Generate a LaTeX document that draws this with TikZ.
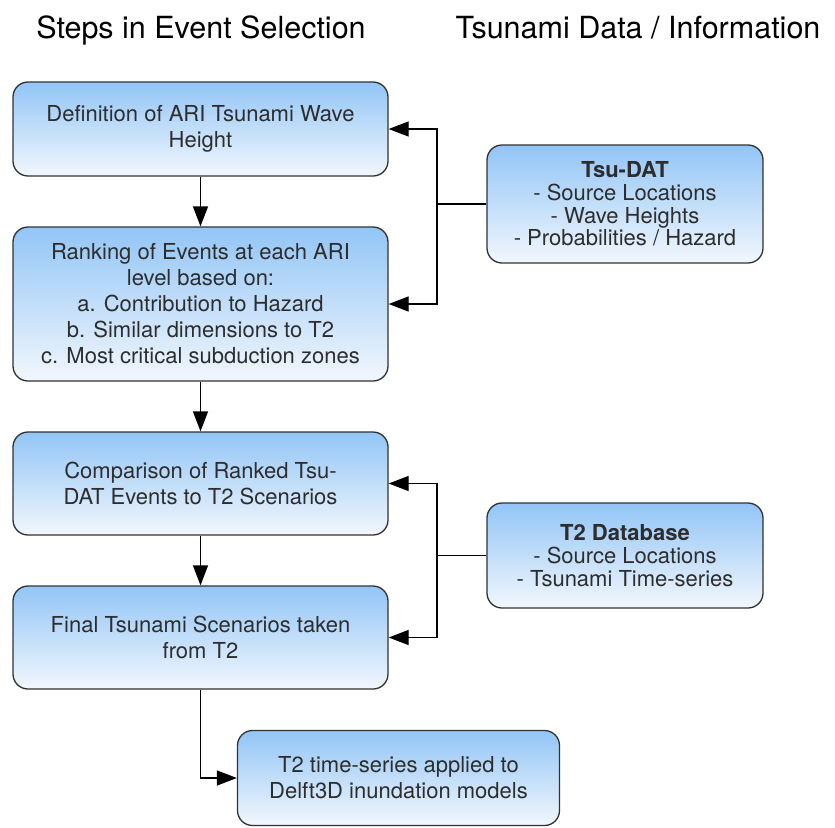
\documentclass[tikz,border=0pt]{standalone}
\usepackage{fontspec}
\setmainfont{TeX Gyre Heros}
\usetikzlibrary{arrows.meta}
\definecolor{boxtop}{RGB}{146,197,246}
\definecolor{boxbot}{RGB}{242,247,253}
\definecolor{txt}{RGB}{45,45,45}
\definecolor{edge}{RGB}{50,50,50}
\begin{document}
\begin{tikzpicture}[x=1pt,y=-1pt,
  stepbox/.style={draw=edge, line width=1.3pt, rounded corners=15pt,
    top color=boxtop, bottom color=boxbot, text=txt, align=center,
    font=\fontsize{22}{26}\selectfont, inner sep=0pt},
  databox/.style={stepbox, font=\fontsize{22}{22.7}\selectfont},
  conn/.style={line width=1.3pt, draw=black},
  arr/.style={conn, -{Triangle[length=20pt,width=15pt]}},
  title/.style={font=\fontsize{30.5}{34}\selectfont, anchor=base, text=black}]
\useasboundingbox[fill=white] (0,0) rectangle (835,827);

\node[title] (t1) at (201,38) {Steps in Event Selection};
\node[title] (t2) at (638,38) {Tsunami Data / Information};

\node[stepbox, minimum width=375pt, minimum height=94pt] (b1) at (200.5,129)
  {Definition of ARI Tsunami Wave\\Height};
\node[stepbox, minimum width=375pt, minimum height=154pt] (b2) at (200.5,304)
  {Ranking of Events at each ARI\\level based on:\\a. Contribution to Hazard\\b. Similar dimensions to T2\\c. Most critical subduction zones};
\node[stepbox, minimum width=375pt, minimum height=103pt] (b3) at (200.5,483.5)
  {Comparison of Ranked Tsu-\\DAT Events to T2 Scenarios};
\node[stepbox, minimum width=375pt, minimum height=103pt] (b4) at (200.5,637.5)
  {Final Tsunami Scenarios taken\\from T2};
\node[stepbox, minimum width=322pt, minimum height=95pt] (b5) at (398.5,778)
  {T2 time-series applied to\\Delft3D inundation models};

\node[databox, minimum width=276pt, minimum height=118pt] (tsu) at (625,204)
  {\textbf{Tsu-DAT}\\- Source Locations\\- Wave Heights\\- Probabilities / Hazard};
\node[databox, minimum width=276pt, minimum height=105pt] (t2db) at (625,555.5)
  {\textbf{T2 Database}\\- Source Locations\\- Tsunami Time-series};

\draw[arr] (b1) -- (b2);
\draw[arr] (b2) -- (b3);
\draw[arr] (b3) -- (b4);
\draw[arr] (b4.south) |- (b5.west);

\coordinate (j1) at (437,204);
\coordinate (j2) at (437,555.5);
\draw[conn] (tsu.west) -- (j1);
\draw[arr] (j1) |- (b1.east);
\draw[arr] (j1) |- (b2.east);
\draw[conn] (t2db.west) -- (j2);
\draw[arr] (j2) |- (b3.east);
\draw[arr] (j2) |- (b4.east);
\end{tikzpicture}
\end{document}
